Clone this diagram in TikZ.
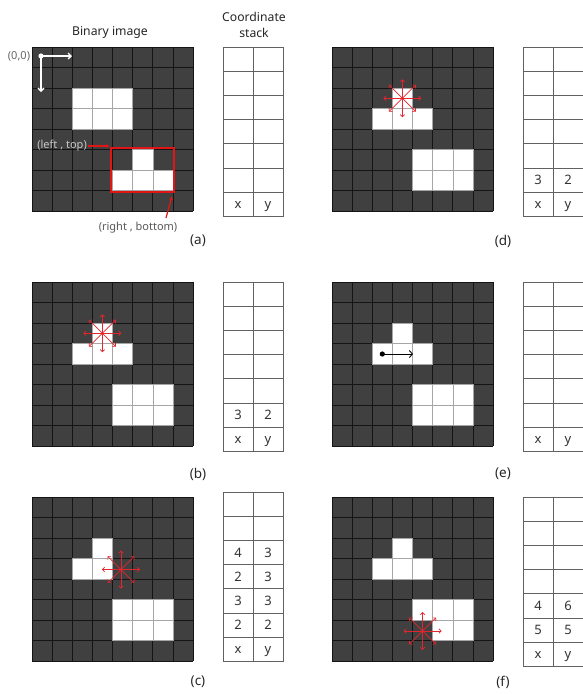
\documentclass[tikz,border=0pt]{standalone}
\usepackage{fontspec}
\setmainfont{Noto Sans}
\usetikzlibrary{arrows.meta}
\definecolor{cellDark}{HTML}{404040}
\definecolor{starRed}{HTML}{E3262E}
\definecolor{boxRed}{HTML}{E01515}

\newcommand{\binGrid}[3]{%
  \fill[cellDark] (#1,#2) rectangle ++(161,164);
  \foreach \i in {0,...,8} {
    \draw[gridline] ({#1+\i*20.125},#2) -- ++(0,164);
    \draw[gridline] (#1,{#2+\i*20.5}) -- ++(161,0);
  }
  \foreach \c/\r in {#3} {
    \filldraw[whitecell] ({#1+\c*20.125},{#2+\r*20.5}) rectangle ++(20.125,20.5);
  }
}
\newcommand{\coordStack}[3]{% name, x0, y0
  \draw[stackline] (#2,#3) rectangle ++(60,169.4);
  \draw[stackline] ({#2+30},#3) -- ++(0,169.4);
  \foreach \k in {1,...,6} {\draw[stackline] (#2,{#3+\k*24.2}) -- ++(60,0);}
  \node[stacktxt] (#1-x) at ({#2+15},{#3+6.5*24.2+4.3}) {x};
  \node[stacktxt] (#1-y) at ({#2+45},{#3+6.5*24.2+4.3}) {y};
}
\newcommand{\stackRow}[6]{% name, x0, y0, row, a, b
  \node[stacktxt] (#1-#4a) at ({#2+15},{#3+(#4-0.5)*24.2+4.6}) {#5};
  \node[stacktxt] (#1-#4b) at ({#2+45},{#3+(#4-0.5)*24.2+4.6}) {#6};
}
\newcommand{\redStar}[2]{%
  \foreach \a in {0,45,...,315} {\draw[starline] (#1,#2) -- ++(\a:19);}
}

\begin{document}
\begin{tikzpicture}[x=1pt,y=-1pt,
  gridline/.style={draw=black!92, line width=0.7pt},
  whitecell/.style={fill=white, draw=black!35, line width=0.5pt},
  stackline/.style={draw=black!62, line width=0.8pt},
  starline/.style={draw=starRed, line width=0.7pt, -{Straight Barb[length=2.2pt,width=4.6pt]}},
  paneltag/.style={font=\fontsize{13.5}{16}\selectfont, text=black!85},
  stacktxt/.style={font=\fontsize{13}{15}\selectfont, text=black!80, anchor=base, inner sep=0pt},
  titletxt/.style={font=\fontsize{12.2}{16}\selectfont, text=black!85, align=center},
  notetxt/.style={font=\fontsize{11}{13}\selectfont, inner sep=1pt},
]
\useasboundingbox (0,0) rectangle (582,694);
\fill[white] (0,0) rectangle (582,694);

% titles
\node[titletxt] (binTitle) at (110,32) {Binary image};
\node[titletxt] (stkTitle) at (254,25) {Coordinate\\stack};

% grids
\binGrid{32}{47}{2/2,3/2,4/2,2/3,3/3,4/3,5/5,4/6,5/6,6/6}
\binGrid{332}{47}{3/2,2/3,3/3,4/3,4/5,5/5,6/5,4/6,5/6,6/6}
\binGrid{32}{282}{3/2,2/3,3/3,4/3,4/5,5/5,6/5,4/6,5/6,6/6}
\binGrid{332}{282}{3/2,2/3,3/3,4/3,4/5,5/5,6/5,4/6,5/6,6/6}
\binGrid{32}{497}{3/2,2/3,3/3,4/5,5/5,6/5,4/6,5/6,6/6}
\binGrid{332}{497}{3/2,2/3,3/3,4/3,4/5,5/5,6/5,5/6,6/6}

% stacks
\coordStack{sa}{223}{47}
\coordStack{sd}{523}{47}
\stackRow{sd}{523}{47}{6}{3}{2}
\coordStack{sb}{223}{282}
\stackRow{sb}{223}{282}{6}{3}{2}
\coordStack{se}{523}{282}
\coordStack{sc}{223}{492}
\stackRow{sc}{223}{492}{3}{4}{3}
\stackRow{sc}{223}{492}{4}{2}{3}
\stackRow{sc}{223}{492}{5}{3}{3}
\stackRow{sc}{223}{492}{6}{2}{2}
\coordStack{sf}{523}{497}
\stackRow{sf}{523}{497}{5}{4}{6}
\stackRow{sf}{523}{497}{6}{5}{5}

% (a) annotations
\fill[white] (41,56) circle (2.6);
\coordinate (orig) at (41,56);
\coordinate (origR) at (72,56);
\coordinate (origD) at (41,92);
\draw[white, line width=1.3pt, -{Straight Barb[length=3pt,width=6pt]}] (orig) -- (origR);
\draw[white, line width=1.3pt, -{Straight Barb[length=3pt,width=6pt]}] (orig) -- (origD);
\node[notetxt, text=black!60] (zeroLbl) at (19,56) {(0,0)};

\coordinate (rbTL) at (111,148);
\coordinate (rbBR) at (174,192);
\draw[boxRed, line width=2pt] (rbTL) rectangle (rbBR);
\node[notetxt, text=black!22, anchor=east] (ltLbl) at (88,146) {(left , top)};
\coordinate (ltTip) at (110,146);
\draw[boxRed, line width=1.2pt, -{Latex[length=4pt,width=4pt]}] (ltLbl.east) -- (ltTip);
\node[notetxt, text=black!65] (rbLbl) at (138,228) {(right , bottom)};
\coordinate (rbFrom) at (166,218);
\coordinate (rbTip) at (172,196);
\draw[boxRed, line width=1.2pt, -{Latex[length=4pt,width=4pt]}] (rbFrom) -- (rbTip);

% stars
\redStar{402.4}{98.25}
\redStar{102.4}{333.25}
\redStar{121}{569.5}
\redStar{422.6}{631}

% (e) arrow
\coordinate (eDot) at (382.3,354);
\coordinate (eTip) at (413,354);
\fill[black] (eDot) circle (2.6);
\draw[black, line width=0.9pt, -{Straight Barb[length=3pt,width=7pt]}] (eDot) -- (eTip);

% panel tags
\node[paneltag] (tagA) at (198,241) {(a)};
\node[paneltag] (tagD) at (503,241) {(d)};
\node[paneltag] (tagB) at (198,474) {(b)};
\node[paneltag] (tagE) at (503,474) {(e)};
\node[paneltag] (tagC) at (198,682) {(c)};
\node[paneltag] (tagF) at (503,682) {(f)};
\end{tikzpicture}
\end{document}
